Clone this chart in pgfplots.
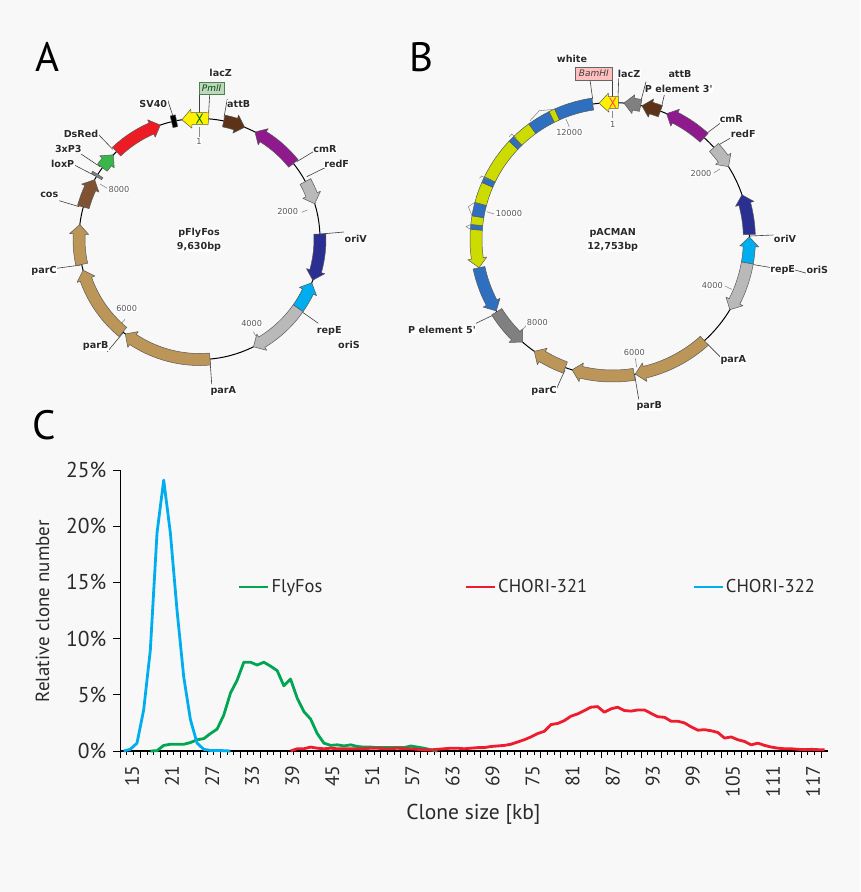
\documentclass[border=0pt]{standalone}
\usepackage{fontspec}
\usepackage{pgfplots}
\pgfplotsset{compat=1.18}
\setmainfont{PT Sans}
\newfontfamily\mapfont{DejaVu Sans}
\definecolor{bgcol}{HTML}{F8F8F8}
\definecolor{gtan}{HTML}{BC9558}
\definecolor{lgray}{HTML}{B9B9B9}
\definecolor{dgray}{HTML}{808080}
\definecolor{navy}{HTML}{2B2F91}
\definecolor{sky}{HTML}{00AEEF}
\definecolor{purp}{HTML}{8E1A8E}
\definecolor{dbrown}{HTML}{5C3317}
\definecolor{mbrown}{HTML}{7F5233}
\definecolor{gred}{HTML}{ED1C24}
\definecolor{ggreen}{HTML}{39B54A}
\definecolor{yel}{HTML}{FFF200}
\definecolor{ygreen}{HTML}{CCDC00}
\definecolor{wblue}{HTML}{2F6FBF}
\definecolor{lgreen}{HTML}{00A651}
\definecolor{lred}{HTML}{ED1C2E}
\definecolor{txt}{HTML}{2A2A2A}
% angles are clockwise from the top of the circle
\def\Rp{120}
\def\hw{6}
\def\hh{9.5}
\def\headlen{9.5}
\newcommand{\gene}[3]{%
  \pgfmathsetmacro\aS{90-#1}%
  \pgfmathsetmacro\aT{90-#2}%
  \pgfmathsetmacro\sgn{(#2>#1)?1:-1}%
  \pgfmathsetmacro\aN{\aT+\sgn*\headlen/\Rp*57.3}%
  \pgfmathsetmacro\Ro{\Rp+\hw}%
  \pgfmathsetmacro\Ri{\Rp-\hw}%
  \draw[line width=.5pt,draw=black!65,fill=#3,line join=round]
    (\aS:\Ro) arc[start angle=\aS,end angle=\aN,radius=\Ro pt]
    -- (\aN:\Rp+\hh) -- (\aT:\Rp) -- (\aN:\Rp-\hh) -- (\aN:\Ri)
    arc[start angle=\aN,end angle=\aS,radius=\Ri pt] -- cycle;}
\newcommand{\band}[3]{%
  \pgfmathsetmacro\aS{90-#1}%
  \pgfmathsetmacro\aT{90-#2}%
  \pgfmathsetmacro\Ro{\Rp+\hw}%
  \pgfmathsetmacro\Ri{\Rp-\hw}%
  \draw[line width=.5pt,draw=black!65,fill=#3]
    (\aS:\Ro) arc[start angle=\aS,end angle=\aT,radius=\Ro pt]
    -- (\aT:\Ri) arc[start angle=\aT,end angle=\aS,radius=\Ri pt] -- cycle;}
\newcommand{\ld}[4]{\draw[line width=.6pt,black!75] (#1,-#2) -- (#3,-#4);}
\newcommand{\tk}[4]{\draw[line width=.6pt,black!45] (#1,-#2) -- (#3,-#4);}
\newcommand{\lab}[3]{\node[font=\mapfont\bfseries\fontsize{9.6}{11}\selectfont,text=txt,fill=white,inner sep=.4pt] at (#1,-#2) {#3};}
\newcommand{\num}[3]{\node[font=\mapfont\fontsize{8.2}{10}\selectfont,text=black!65,fill=white,inner sep=.4pt] at (#1,-#2) {#3};}
\begin{document}
\begin{tikzpicture}[x=1pt,y=1pt]
\useasboundingbox (0,0) rectangle (860,-892);
\fill[bgcol] (0,0) rectangle (860,-892);

\node[font=\fontsize{41}{42}\selectfont,text=black] at (47.3,-57) {A};
\node[font=\fontsize{41}{42}\selectfont,text=black] at (421,-57) {B};
\node[font=\fontsize{41}{42}\selectfont,text=black] at (44,-425) {C};

% ---- pFlyFos
\ld{199}{94.3}{199}{115}\ld{209.7}{94.3}{208.5}{115}
\ld{167.7}{100}{173.3}{117.3}\ld{227.3}{99}{224}{117.3}
\ld{98.3}{134.3}{112.7}{149.3}\ld{81}{154}{100}{166.7}
\ld{74.3}{165}{95}{175.7}\ld{59.3}{200.7}{79.3}{206.7}
\ld{56.7}{268.3}{80.7}{265}\ld{107.3}{351.7}{124}{331.7}
\ld{210}{360}{211.7}{384}\ld{301.7}{311.7}{318.3}{323.3}
\ld{321}{234}{344}{232}\ld{306.7}{176.7}{325}{167.7}
\ld{296.7}{161.7}{313.3}{151.7}
\tk{100}{184}{107.3}{188.3}\tk{120}{325}{125}{319.3}
\tk{253.3}{331.7}{257.3}{338.3}\tk{301.7}{212.3}{307.3}{210}
\tk{199}{126.7}{199}{136.7}
\begin{scope}[shift={(199.5,-239)}]
  \def\Rp{120.5}
  \draw[line width=1pt] (0,0) circle[radius=\Rp pt];
  \gene{4.3}{-8.4}{yel}
  \draw[green!45!black,line width=.9pt] (-3,115.5)--(3,125.5) (3,115.5)--(-3,125.5);
  \band{-13.4}{-11}{black}
  \gene{-43.5}{-19}{gred}
  \gene{-53.7}{-45.7}{ggreen}
  \band{-58.8}{-57.6}{dgray}
  \gene{-74.6}{-60.5}{mbrown}
  \gene{-102.2}{-83.1}{gtan}
  \gene{-140.5}{-105}{gtan}
  \gene{175}{218}{gtan}
  \gene{125}{153.4}{lgray}
  \gene{125}{111.3}{sky}
  \gene{87.6}{110}{navy}
  \gene{61.5}{73}{lgray}
  \gene{51.2}{27.4}{purp}
  \gene{11.6}{22}{dbrown}
\end{scope}
\lab{220.7}{73.3}{lacZ}
\node[draw=green!30!black!70,fill=green!35!black!25!white,minimum width=25pt,minimum height=12pt,inner sep=0pt,font=\mapfont\itshape\fontsize{9}{10}\selectfont,text=green!30!black] at (211.5,-88.3) {PmlI};
\lab{153.3}{104}{SV40}\lab{238.7}{104}{attB}
\lab{81}{134.3}{DsRed}\lab{68.3}{149}{3xP3}\lab{62.7}{164.3}{loxP}
\lab{49.3}{195}{cos}\lab{44}{270.7}{parC}\lab{95.7}{345.7}{parB}
\lab{223.3}{390.7}{parA}\lab{329.3}{330.7}{repE}\lab{349}{345}{oriS}
\lab{355.7}{239.3}{oriV}\lab{336.7}{164}{redF}\lab{325}{149}{cmR}
\lab{199}{233.3}{pFlyFos}\lab{199}{246.7}{9,630bp}
\num{119}{189.3}{8000}\num{126.7}{308.3}{6000}\num{251.7}{323.3}{4000}
\num{287.7}{212}{2000}\num{199}{141.7}{1}

% ---- pACMAN
\ld{612.3}{80}{612.3}{100}\ld{590}{80}{592.7}{99.3}
\ld{618.7}{78.3}{618}{98.3}\ld{646}{81.7}{640.7}{101.7}
\ld{664.3}{95}{661}{109.3}\ld{720}{123.3}{706.7}{133.3}
\ld{730}{138.3}{716.7}{146}\ld{750}{236}{773.3}{235}
\ld{751.7}{264.3}{771.7}{267.7}\ld{795}{270}{806.7}{273.3}
\ld{706.7}{343.3}{721.7}{358.3}\ld{634.7}{375}{638.7}{399.3}
\ld{565}{370}{556.7}{388.3}\ld{476}{323.3}{493.3}{315}
\tk{714}{172.7}{720}{169}\tk{725}{286}{731.7}{289.3}
\tk{635.3}{358.3}{636.7}{367.3}\tk{526.7}{325}{520.7}{331.7}
\tk{486.7}{211.7}{494}{214}\tk{566}{119.3}{569.3}{126.7}
\tk{612.7}{110.7}{612.7}{118.3}
\begin{scope}[shift={(612.7,-239.3)}]
  \def\Rp{136.7}
  \draw[line width=1pt] (0,0) circle[radius=\Rp pt];
  \gene{2.4}{-5.7}{yel}
  \draw[red!70!white,line width=.9pt] (-3,131.7)--(3,141.7) (3,131.7)--(-3,141.7);
  \gene{11.8}{4.7}{dgray}
  \gene{20.4}{12.3}{dbrown}
  \gene{42}{23.2}{purp}
  \gene{47.8}{57.9}{lgray}
  \gene{88}{71}{navy}
  \gene{100}{89}{sky}
  \gene{100}{121}{lgray}
  \gene{137.9}{170.5}{gtan}
  \gene{171}{197.3}{gtan}
  \gene{200.3}{215}{gtan}
  \gene{-122}{-138.8}{dgray}
  \gene{-102}{-121.6}{wblue}
  \gene{-86}{-102}{ygreen}
  \band{-84}{-86}{wblue}
  \band{-80.5}{-84}{ygreen}
  \band{-75}{-80.5}{wblue}
  \band{-66.5}{-75}{ygreen}
  \band{-64}{-66.5}{wblue}
  \band{-46.5}{-64}{ygreen}
  \band{-44}{-46.5}{wblue}
  \band{-36}{-44}{ygreen}
  \band{-26.5}{-36}{wblue}
  \band{-24}{-26.5}{ygreen}
  \band{-8.4}{-24}{wblue}
\end{scope}
\draw[line width=.5pt,black!50] (530,-120.7)--(539.3,-110.7)--(555,-109.3)
  (509.3,-136.7)--(511.7,-134)--(516.7,-138.3)
  (479.3,-178.3)--(481.7,-176)--(487.3,-179.3)
  (471.7,-215)--(468.3,-206.7)--(475,-202.3)
  (471.7,-230)--(466,-226.7)--(471.7,-224);
\lab{572}{59}{white}
\node[draw=black!60,fill=red!25!white,minimum width=37pt,minimum height=13.3pt,inner sep=0pt,font=\mapfont\itshape\fontsize{9}{10}\selectfont,text=black!75] at (593.8,-73.4) {BamHI};
\lab{629}{73.7}{lacZ}\lab{680}{73.7}{attB}\lab{678.7}{89}{P element 3'}
\lab{731.3}{119}{cmR}\lab{743.3}{134}{redF}\lab{785}{239.3}{oriV}
\lab{782.7}{270}{repE}\lab{817.3}{270}{oriS}\lab{733.3}{360}{parA}
\lab{649.3}{405.7}{parB}\lab{544}{390.7}{parC}\lab{442}{330}{P element 5'}
\lab{612.7}{233.3}{pACMAN}\lab{612.7}{246.7}{12,753bp}
\num{701}{173.3}{2000}\num{712.3}{285.7}{4000}\num{634.3}{352.3}{6000}
\num{537.3}{322.7}{8000}\num{509}{214}{10000}\num{569.3}{132.7}{12000}
\num{612.7}{125}{1}

% ---- clone size distribution
\begin{axis}[
  at={(120.3pt,-751pt)},anchor=origin,
  scale only axis,width=707.7pt,height=281pt,
  xmin=13.25,xmax=119.25,ymin=0,ymax=25,
  axis lines=left,axis line style={-,line width=1.4pt,black},
  clip=false,
  xtick={13.25,16.25,...,119.25},xticklabels={},
  minor x tick num=2,
  ytick={0,5,10,15,20,25},yticklabels={0\%,5\%,10\%,15\%,20\%,25\%},
  extra x ticks={15,21,27,33,39,45,51,57,63,69,75,81,87,93,99,105,111,117},
  extra x tick labels={15,21,27,33,39,45,51,57,63,69,75,81,87,93,99,105,111,117},
  extra x tick style={major tick length=0pt,xticklabel style={rotate=90,anchor=east,xshift=-11pt}},
  tick style={black,line width=1pt},
  major tick length=7pt,minor tick length=3.5pt,
  tick align=outside,
  xticklabel style={font=\fontsize{19.5}{20}\selectfont,text=txt},
  yticklabel style={font=\fontsize{21.5}{22}\selectfont,text=txt,xshift=-3.5pt},
  xlabel={Clone size [kb]},ylabel={Relative clone number},
  xlabel style={at={(axis description cs:.499,-.225)},anchor=center,font=\fontsize{21.5}{22}\selectfont,text=txt},
  ylabel style={at={(axis description cs:-.11,.498)},anchor=center,font=\fontsize{19}{20}\selectfont,text=txt},
  legend columns=3,
  legend style={at={(axis description cs:.1660,.5836)},anchor=west,draw=none,fill=none,
    font=\fontsize{18.5}{20}\selectfont,text=txt,inner sep=0pt,outer sep=0pt,
    /tikz/column 2/.style={column sep=140pt},/tikz/column 4/.style={column sep=103pt}},
  legend image code/.code={\draw[#1,line width=2.8pt] (0,0)--(29pt,0);},
  every axis plot/.append style={line width=2.8pt,line join=round,no markers},
]
\addplot[lgreen] coordinates {
(17.75,0)(18.75,0.03)(19.75,0.5)(20.75,0.6)(21.75,0.6)(22.75,0.6)(23.75,0.75)(24.75,1.0)
(25.75,1.1)(26.75,1.55)(27.75,1.95)(28.75,3.2)(29.75,5.15)(30.75,6.3)(31.75,7.9)(32.75,7.9)
(33.75,7.65)(34.75,7.9)(35.75,7.55)(36.75,7.15)(37.75,5.8)(38.75,6.4)(39.75,4.7)(40.75,3.5)
(41.75,2.85)(42.75,1.55)(43.75,0.7)(44.75,0.5)(45.75,0.55)(46.75,0.45)(47.75,0.55)(48.75,0.4)
(49.75,0.35)(50.75,0.35)(51.75,0.3)(52.75,0.3)(53.75,0.3)(54.75,0.3)(55.75,0.3)(56.75,0.45)
(57.75,0.35)(58.75,0.25)(59.75,0.1)(60.75,0)};
\addlegendentry{FlyFos}
\addplot[lred] coordinates {
(38.75,0)(39.75,0.2)(40.75,0.2)(41.75,0.35)(42.75,0.25)(43.75,0.2)(44.75,0.25)(45.75,0.2)
(46.75,0.2)(47.75,0.2)(48.75,0.2)(49.75,0.2)(50.75,0.25)(51.75,0.25)(52.75,0.2)(53.75,0.2)
(54.75,0.25)(55.75,0.2)(56.75,0.2)(57.75,0.15)(58.75,0.1)(59.75,0.1)(60.75,0.15)(61.75,0.2)
(62.75,0.25)(63.75,0.25)(64.75,0.2)(65.75,0.25)(66.75,0.3)(67.75,0.3)(68.75,0.4)(69.75,0.45)
(70.75,0.5)(71.75,0.6)(72.75,0.8)(73.75,1.0)(74.75,1.25)(75.75,1.55)(76.75,1.75)(77.75,2.35)
(78.75,2.45)(79.75,2.7)(80.75,3.1)(81.75,3.3)(82.75,3.6)(83.75,3.9)(84.75,3.95)(85.75,3.45)
(86.75,3.75)(87.75,3.9)(88.75,3.6)(89.75,3.55)(90.75,3.65)(91.75,3.65)(92.75,3.35)(93.75,3.05)
(94.75,3.0)(95.75,2.65)(96.75,2.65)(97.75,2.5)(98.75,2.15)(99.75,1.85)(100.75,1.9)(101.75,1.8)
(102.75,1.65)(103.75,1.15)(104.75,1.25)(105.75,1.0)(106.75,0.85)(107.75,0.55)(108.75,0.7)
(109.75,0.5)(110.75,0.35)(111.75,0.25)(112.75,0.2)(113.75,0.2)(114.75,0.15)(115.75,0.12)
(116.75,0.15)(117.75,0.12)(118.75,0.1)};
\addlegendentry{CHORI-321}
\addplot[sky] coordinates {
(13.75,0)(14.75,0.15)(15.75,0.7)(16.75,3.65)(17.75,9)(18.75,19.4)(19.75,24.1)(20.75,19.4)
(21.75,12.5)(22.75,6.6)(23.75,2.8)(24.75,0.7)(25.75,0.15)(26.75,0.05)(27.75,0.05)(28.75,0.03)(29.75,0)};
\addlegendentry{CHORI-322}
\end{axis}
\end{tikzpicture}
\end{document}
